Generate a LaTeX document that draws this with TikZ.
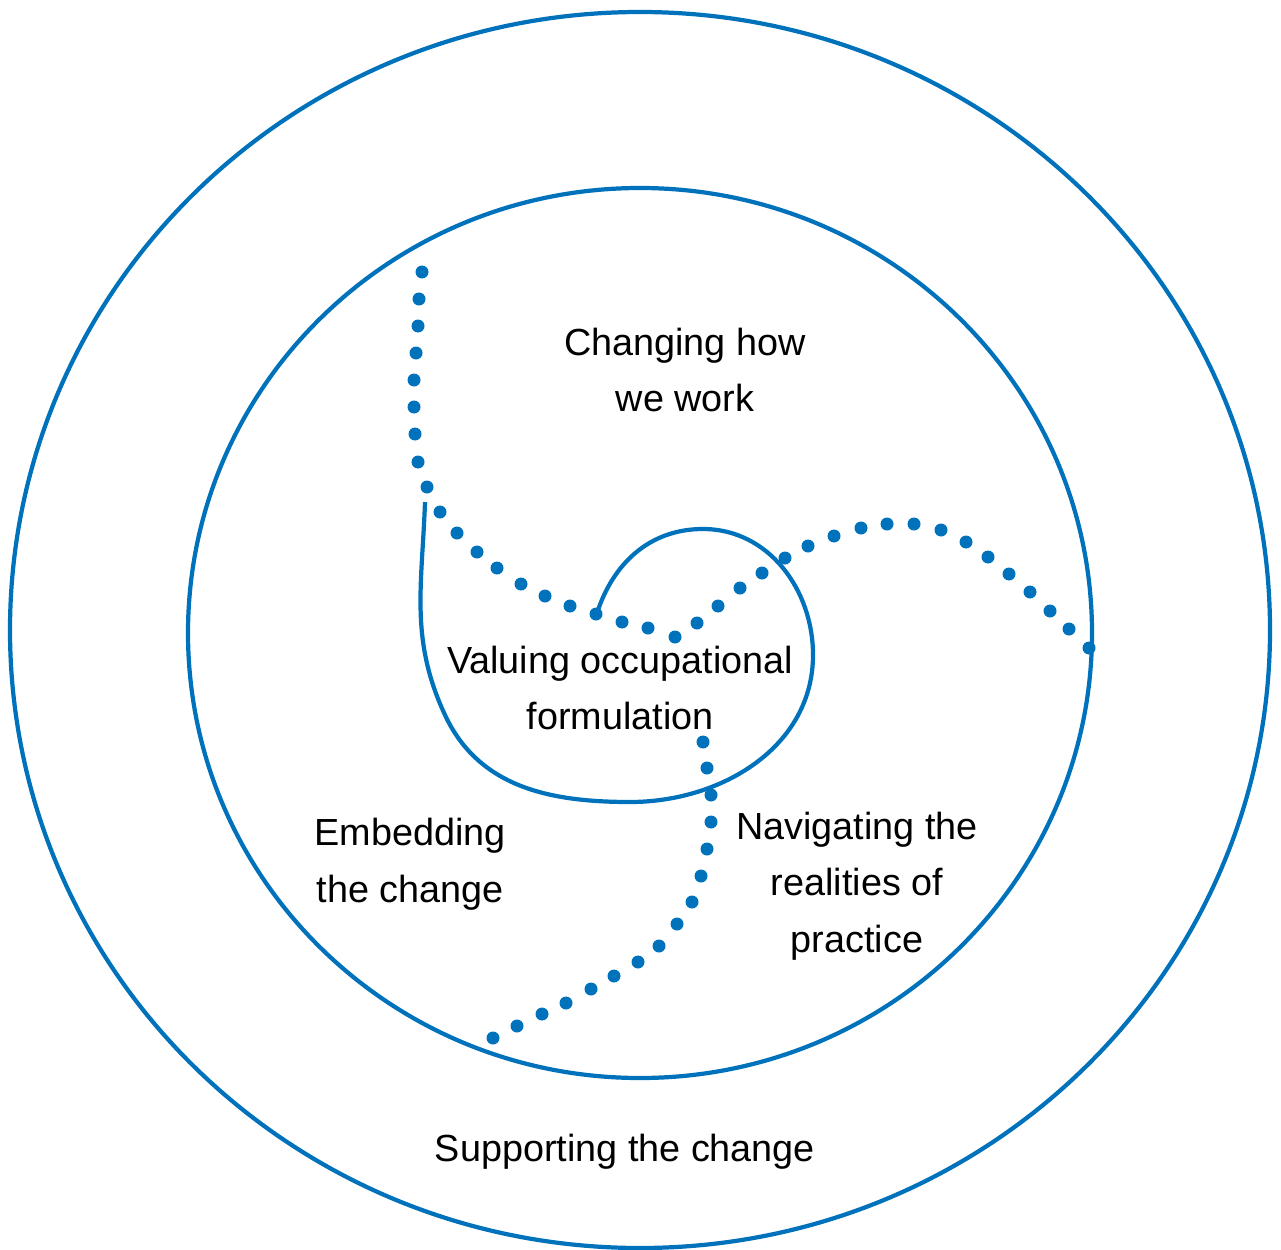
\documentclass[tikz,border=0pt]{standalone}
\usepackage{fontspec}
\setmainfont{Liberation Sans}
\definecolor{ringblue}{RGB}{0,114,187}
\tikzset{
  ring/.style={draw=ringblue, line width=2.4pt},
  areatext/.style={align=center, font=\fontsize{21.5}{32.3}\selectfont}
}

\begin{document}
\begin{tikzpicture}[x=0.02cm,y=-0.02cm]
  \useasboundingbox (0,0) rectangle (1281,1250);
  \draw[ring] (640,630) ellipse [x radius=630, y radius=618];
  \draw[ring] (640,633) ellipse [x radius=452, y radius=445];
  \draw[ring] (425,502) to[out=-92,in=115] (445,715) to[out=-65,in=180] (630,802)
    to[out=0,in=-90] (813,655) to[out=90,in=0] (703,529) to[out=180,in=72] (597,613);
  % dotted dividers
  \foreach \x/\y in {422/272, 419/299, 418/326, 416/353, 414/380, 414/407, 415/434, 418/462,
      427/487, 440/512, 457/533, 477/552, 497/568, 521/584, 545/596, 570/606, 596/614,
      622/622, 648/628, 675/637, 697/623, 718/606, 740/588, 762/573, 785/558, 808/546,
      834/536, 861/528, 887/524, 914/524, 941/530, 966/542, 988/557, 1009/574, 1030/592,
      1050/611, 1069/629, 1089/648}
    \fill[ringblue] (\x,\y) circle [radius=3.7pt];
  \foreach \x/\y in {703/742, 707/768, 711/795, 711/822, 707/849, 701/876, 692/902, 677/924,
      659/946, 638/962, 614/976, 591/989, 566/1003, 542/1014, 517/1026, 493/1038}
    \fill[ringblue] (\x,\y) circle [radius=3.7pt];
  \node[areatext] (work) at (685,370) {Changing how\\we work};
  \node[areatext] (value) at (620,688) {Valuing occupational\\formulation};
  \node[areatext] (embed) at (410,864) {Embedding\\the change};
  \node[areatext] (navigate) at (857,886) {Navigating the\\realities of\\practice};
  \node[areatext] (support) at (625,1152) {Supporting the change};
\end{tikzpicture}
\end{document}
